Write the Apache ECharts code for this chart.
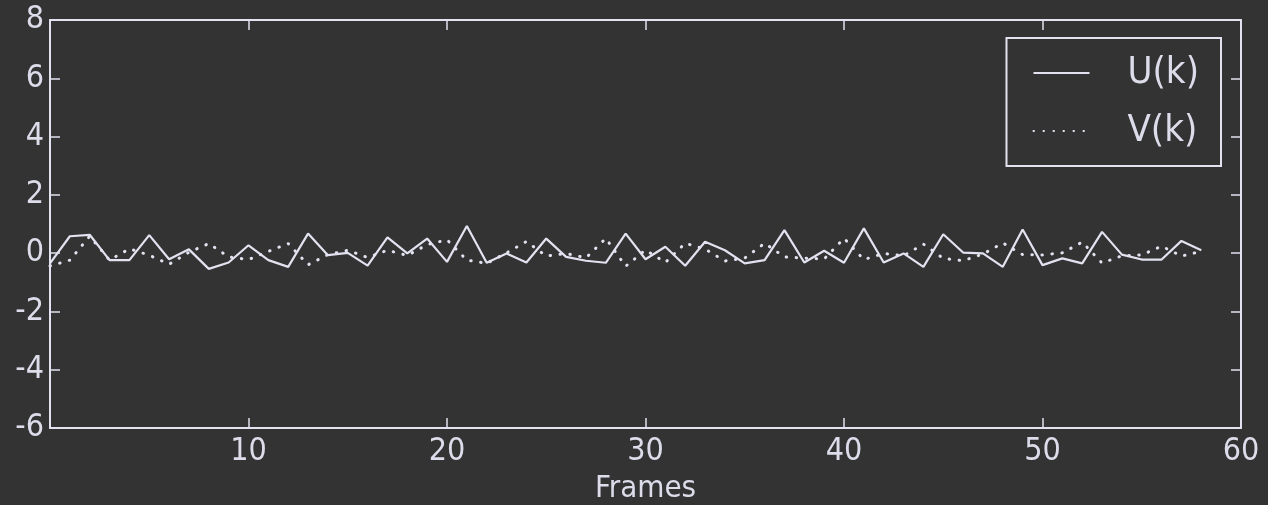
<!DOCTYPE html>
<html>
<head>
<meta charset="utf-8">
<script src="https://cdn.jsdelivr.net/npm/echarts@6/dist/echarts.min.js"></script>
<style>
html,body{margin:0;padding:0;background:#333333;}
#chart{width:1268px;height:505px;}
</style>
</head>
<body>
<div id="chart"></div>
<script>
const frames = Array.from({length: 59}, (_, i) => i);
const uValues = [-0.35, 0.58, 0.63, -0.24, -0.24, 0.62, -0.21, 0.13, -0.54, -0.32, 0.27, -0.24, -0.47, 0.67, -0.07, 0.01, -0.43, 0.54, -0.01, 0.50, -0.30, 0.93, -0.33, -0.01, -0.32, 0.50, -0.13, -0.26, -0.33, 0.67, -0.21, 0.22, -0.43, 0.39, 0.10, -0.35, -0.24, 0.79, -0.32, 0.08, -0.33, 0.85, -0.32, -0.01, -0.47, 0.65, 0.02, -0.01, -0.47, 0.81, -0.41, -0.18, -0.35, 0.73, -0.05, -0.22, -0.22, 0.42, 0.10];
const vValues = [-0.44, -0.24, 0.58, -0.24, 0.15, -0.07, -0.38, 0.03, 0.33, -0.13, -0.22, 0.06, 0.33, -0.40, -0.05, 0.10, -0.15, 0.10, -0.08, 0.29, 0.46, -0.24, -0.35, 0.01, 0.40, -0.10, -0.01, -0.16, 0.51, -0.45, 0.11, -0.32, 0.34, 0.14, -0.27, -0.17, 0.34, -0.13, -0.17, -0.20, 0.51, -0.22, -0.01, -0.09, 0.31, -0.18, -0.26, -0.03, 0.35, -0.05, -0.06, 0.01, 0.38, -0.34, -0.09, -0.06, 0.24, -0.10, 0.06];
const seriesNames = ['U(k)', 'V(k)'];
const xTicks = [0, 10, 20, 30, 40, 50, 60];
const yTicks = [-6, -4, -2, 0, 2, 4, 6, 8];

const fg = '#e2e2f0';
const txt = '#dcdcea';
const font = '"DejaVu Sans Condensed", "DejaVu Sans", sans-serif';

const chart = echarts.init(document.getElementById('chart'));
const axisCommon = {
  axisLine: {show: true, onZero: false, lineStyle: {color: fg, width: 2}},
  axisTick: {show: true, inside: true, length: 10, lineStyle: {color: fg, width: 1.5}},
  splitLine: {show: false}
};
chart.setOption({
  backgroundColor: '#333333',
  animation: false,
  grid: {left: 50, right: 27, top: 20, bottom: 77, containLabel: false, outerBoundsMode: 'none'},
  legend: {
    orient: 'vertical',
    right: 47,
    top: 38,
    padding: [16, 22, 16, 26],
    itemGap: 20,
    itemWidth: 56,
    itemHeight: 20,
    borderColor: fg,
    borderWidth: 2,
    itemStyle: {opacity: 0},
    textStyle: {color: txt, fontSize: 38, fontFamily: font, padding: [0, 0, 0, 33]},
    data: seriesNames
  },
  xAxis: [{
    type: 'value', min: 0, max: 60, interval: 10,
    name: 'Frames', nameLocation: 'middle', nameGap: 45,
    nameTextStyle: {color: txt, fontSize: 31, fontFamily: font},
    axisLabel: {color: txt, fontSize: 32, fontFamily: font, margin: 8,
      showMinLabel: false, formatter: v => xTicks.includes(v) ? String(v) : ''},
    ...axisCommon
  }, {
    type: 'value', min: 0, max: 60, interval: 10, position: 'top',
    axisLabel: {show: false}, ...axisCommon
  }],
  yAxis: [{
    type: 'value', min: -6, max: 8, interval: 2,
    axisLabel: {color: txt, fontSize: 32, fontFamily: font, margin: 6,
      formatter: v => yTicks.includes(v) ? String(v) : ''},
    ...axisCommon
  }, {
    type: 'value', min: -6, max: 8, interval: 2, position: 'right',
    axisLabel: {show: false}, ...axisCommon
  }],
  series: [{
    name: seriesNames[0], type: 'line', symbol: 'none',
    data: frames.map((f, i) => [f, uValues[i]]),
    lineStyle: {color: fg, width: 2.2},
    itemStyle: {color: fg}
  }, {
    name: seriesNames[1], type: 'line', symbol: 'none',
    data: frames.map((f, i) => [f, vValues[i]]),
    lineStyle: {color: fg, width: 3, type: [0.5, 9.5], cap: 'round'},
    itemStyle: {color: fg}
  }]
});
</script>
</body>
</html>
